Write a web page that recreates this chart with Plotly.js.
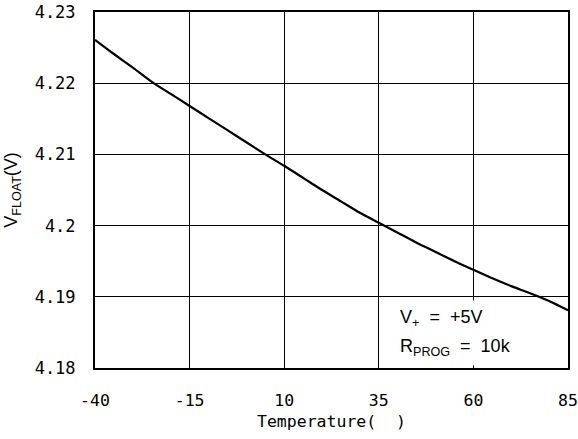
<!DOCTYPE html>
<html>
<head>
<meta charset="utf-8">
<script src="https://cdn.plot.ly/plotly-3.0.1.min.js"></script>
<style>
  html, body { margin: 0; padding: 0; background: #fff; }
  #chart { width: 578px; height: 439px; }
</style>
</head>
<body>
<div id="chart"></div>
<script>
// Float voltage vs. ambient temperature
const temperature = [-40, -35, -30, -25, -20, -15, -10, -5, 0, 5, 10, 15, 20, 25, 30, 35, 40, 45, 50, 55, 60, 65, 70, 75, 80, 85];
const vFloat = [4.2261, 4.2241, 4.2222, 4.2202, 4.2185, 4.2168, 4.2151, 4.2134, 4.2117, 4.2100, 4.2084,
                4.2067, 4.2050, 4.2034, 4.2018, 4.2004, 4.1990, 4.1976, 4.1963, 4.1950, 4.1938,
                4.1926, 4.1915, 4.1905, 4.1894, 4.1881];

const xTicks = [-40, -15, 10, 35, 60, 85];
const xTickLabels = ['-40', '-15', '10', '35', '60', '85'];
const yTicks = [4.18, 4.19, 4.20, 4.21, 4.22, 4.23];
const yTickLabels = ['4.18', '4.19', '4.2', '4.21', '4.22', '4.23'];

// Test conditions shown in the lower-right corner
const conditions = ['V<sub>+</sub>  =  +5V', 'R<sub>PROG</sub>  =  10k'];

const mono = '"DejaVu Sans Mono", "Liberation Mono", monospace';
const narrow = '"Liberation Sans Narrow", "Liberation Sans", Arial, sans-serif';

const trace = {
  x: temperature,
  y: vFloat,
  type: 'scatter',
  mode: 'lines',
  line: { color: '#000', width: 2.2, shape: 'spline', smoothing: 0.6 },
  hoverinfo: 'skip'
};

const layout = {
  width: 578,
  height: 439,
  margin: { l: 95, r: 10, t: 12, b: 71 },
  paper_bgcolor: '#fff',
  plot_bgcolor: '#fff',
  showlegend: false,
  font: { family: mono, size: 16, color: '#000' },
  xaxis: {
    range: [-40, 85],
    tickmode: 'array',
    tickvals: xTicks,
    ticktext: xTickLabels,
    ticks: '',
    ticklabelstandoff: 16,
    ticklabeloverflow: 'allow',
    showgrid: true,
    gridcolor: '#000',
    gridwidth: 1,
    zeroline: false,
    showline: true,
    linecolor: '#000',
    linewidth: 2,
    mirror: true,
    tickfont: { family: mono, size: 16.5, color: '#000' },
    title: { text: 'Temperature(  )', font: { family: mono, size: 16.5, color: '#000' }, standoff: 7 }
  },
  yaxis: {
    range: [4.18, 4.23],
    tickmode: 'array',
    tickvals: yTicks,
    ticktext: yTickLabels,
    ticks: '',
    ticklabelstandoff: 14,
    ticklabeloverflow: 'allow',
    showgrid: true,
    gridcolor: '#000',
    gridwidth: 1,
    zeroline: false,
    showline: true,
    linecolor: '#000',
    linewidth: 2,
    mirror: true,
    tickfont: { family: mono, size: 17, color: '#000' },
    title: { text: 'V<sub>FLOAT</sub>(V)', font: { family: narrow, size: 18, color: '#000' }, standoff: 12 }
  },
  annotations: conditions.map((txt, i) => ({
    xref: 'paper', yref: 'paper',
    x: 0.63, y: 0.14 - i * 0.0815,
    xanchor: 'left', yanchor: 'middle',
    align: 'left',
    showarrow: false,
    bgcolor: '#fff',
    borderpad: 6,
    text: txt,
    font: { family: narrow, size: 18, color: '#000' }
  }))
};

Plotly.newPlot('chart', [trace], layout, { displayModeBar: false, staticPlot: true });
</script>
</body>
</html>
